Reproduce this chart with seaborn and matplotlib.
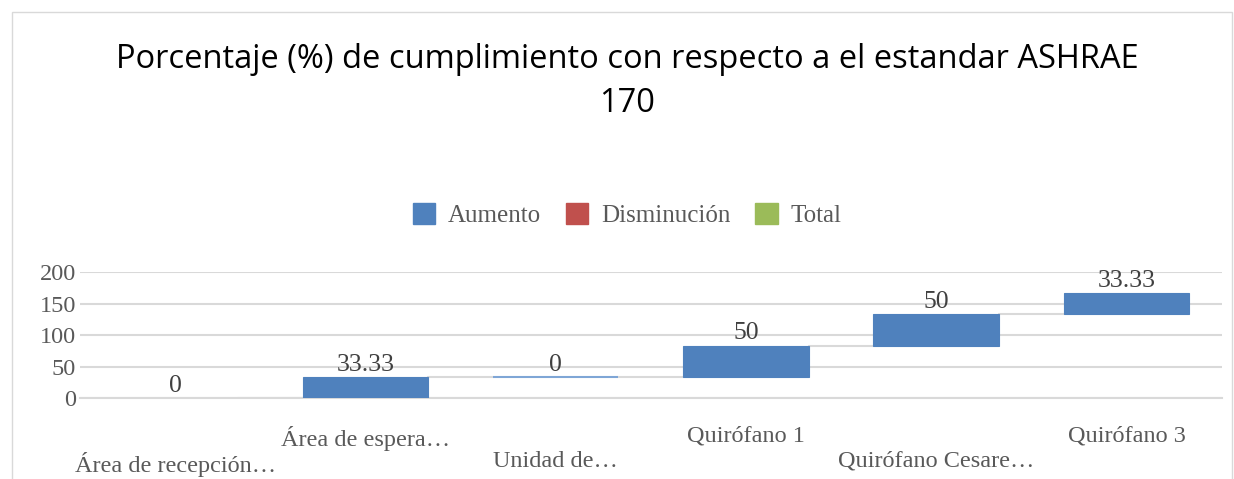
import matplotlib
matplotlib.use("Agg")
import matplotlib.pyplot as plt
from matplotlib.patches import Rectangle, Patch
import numpy as np
import pandas as pd
import seaborn as sns

# chart data
categories = ["Área de recepción…", "Área de espera…", "Unidad de…",
              "Quirófano 1", "Quirófano Cesare…", "Quirófano 3"]
changes = [0, 33.33, 0, 50, 50, 33.33]
labels = ["0", "33.33", "0", "50", "50", "33.33"]
legend_names = ["Aumento", "Disminución", "Total"]
legend_colors = ["#4F81BD", "#C0504D", "#9BBB59"]

# waterfall: each bar starts where the previous ended
ends = np.cumsum(changes)
starts = ends - np.array(changes)

df = pd.DataFrame({"cat": categories, "val": changes})

sns.set_style("white")
serif = ["Liberation Serif", "DejaVu Serif"]

fig = plt.figure(figsize=(12.34, 4.79), dpi=100)
ax = fig.add_axes([0.0648, 0.169, 0.9252, 0.263])

sns.barplot(data=df, x="cat", y="val", color=legend_colors[0], saturation=1,
            width=0.66, ax=ax, zorder=3)

# move each bar to float at its start position
for p, s, c in zip(ax.patches, starts, changes):
    p.set_y(s)
    p.set_height(c)
    if c == 0:
        # flat bar: thin light line, hidden on the baseline
        p.set_edgecolor("#7FA6D6")
        p.set_linewidth(0 if s == 0 else 1.5)
    else:
        p.set_edgecolor(legend_colors[0])
        p.set_linewidth(0.8)

# connector lines between bars
for i in range(len(categories) - 1):
    ax.plot([i + 0.33, i + 1 - 0.33], [ends[i], ends[i]], color="#D9D9D9",
            lw=1.5, zorder=2)

# data labels
for i, (e, t) in enumerate(zip(ends, labels)):
    ax.text(i, e + 2, t, ha="center", va="bottom", fontsize=18.5,
            family=serif, color="#404040", zorder=4)

ax.set_ylim(0, 200)
ax.set_xlim(-0.5, len(categories) - 0.5)
ax.set_yticks([0, 50, 100, 150, 200])
ax.yaxis.grid(True, color="#D9D9D9", lw=1.5, zorder=0)
ax.set_axisbelow(True)
for s in ["top", "right", "left"]:
    ax.spines[s].set_visible(False)
ax.spines["bottom"].set_color("#D9D9D9")
ax.spines["bottom"].set_linewidth(1.5)
ax.tick_params(axis="both", length=0, labelsize=17.5, colors="#595959")

# staggered category labels
ax.set_xticks(range(len(categories)))
ax.set_xticklabels([("\n" + c) if i % 2 == 0 else c
                    for i, c in enumerate(categories)], linespacing=1.25)
for t in ax.get_xticklabels() + ax.get_yticklabels():
    t.set_family(serif)
ax.tick_params(axis="x", pad=20)
ax.tick_params(axis="y", pad=3)
ax.set_xlabel("")
ax.set_ylabel("")

# legend
handles = [Patch(facecolor=c, edgecolor=c) for c in legend_colors]
fig.legend(handles, legend_names, loc="center", bbox_to_anchor=(0.508, 0.551),
           ncol=3, frameon=False, prop={"family": serif, "size": 18},
           handlelength=0.9, handleheight=0.9, handletextpad=0.5,
           columnspacing=1.0, labelcolor="#595959")

fig.text(0.508, 0.83, "Porcentaje (%) de cumplimiento con respecto a el estandar ASHRAE\n170",
         ha="center", va="center", fontsize=23.5, family=["Open Sans", "DejaVu Sans"],
         color="black", linespacing=1.42)

# chart border
fig.patches.append(Rectangle((12 / 1234, -0.01), 1220 / 1234, 1 - 12 / 479 + 0.01,
                             transform=fig.transFigure, fill=False,
                             edgecolor="#D9D9D9", lw=1))

fig.savefig("out.png", dpi=100, facecolor="white")
